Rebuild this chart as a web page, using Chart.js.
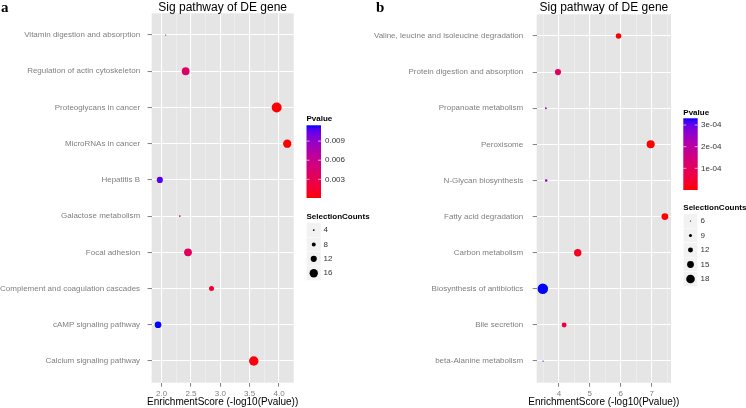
<!DOCTYPE html>
<html>
<head>
<meta charset="utf-8">
<script src="https://cdn.jsdelivr.net/npm/chart.js@4"></script>
<style>
  body { margin: 0; background: #fff; }
  .panel { position: absolute; top: 0; width: 373px; height: 408px; }
  #wrapA { left: 0; }
  #wrapB { left: 373px; }
</style>
</head>
<body>
<div class="panel" id="wrapA"><canvas id="chartA"></canvas></div>
<div class="panel" id="wrapB"><canvas id="chartB"></canvas></div>
<script>
// panel a
const catsA = [
  "Vitamin digestion and absorption",
  "Regulation of actin cytoskeleton",
  "Proteoglycans in cancer",
  "MicroRNAs in cancer",
  "Hepatitis B",
  "Galactose metabolism",
  "Focal adhesion",
  "Complement and coagulation cascades",
  "cAMP signaling pathway",
  "Calcium signaling pathway",
];
const scoreA = [2.07, 2.41, 3.96, 4.14, 1.97, 2.31, 2.45, 2.85, 1.94, 3.57];
const countA = [3, 15, 19, 16, 12, 4, 15, 10, 13, 18];
const xTicksA = [2.0, 2.5, 3.0, 3.5, 4.0];
const xTickLabelsA = ["2.0", "2.5", "3.0", "3.5", "4.0"];
const xMinorA = [2.25, 2.75, 3.25, 3.75];
const pBreaksA = [0.003, 0.006, 0.009];
const pLabelsA = ["0.003", "0.006", "0.009"];
const countBreaksA = [4, 8, 12, 16];

// panel b
const catsB = [
  "Valine, leucine and isoleucine degradation",
  "Protein digestion and absorption",
  "Propanoate metabolism",
  "Peroxisome",
  "N-Glycan biosynthesis",
  "Fatty acid degradation",
  "Carbon metabolism",
  "Biosynthesis of antibiotics",
  "Bile secretion",
  "beta-Alanine metabolism",
];
const scoreB = [5.93, 3.97, 3.58, 6.97, 3.59, 7.43, 4.61, 3.48, 4.17, 3.49];
const countB = [13, 14, 7, 17, 8, 15, 16, 21, 12, 6];
const xTicksB = [4, 5, 6, 7];
const xTickLabelsB = ["4", "5", "6", "7"];
const xMinorB = [3.5, 4.5, 5.5, 6.5, 7.5];
const pBreaksB = [0.0001, 0.0002, 0.0003];
const pLabelsB = ["1e-04", "2e-04", "3e-04"];
const countBreaksB = [6, 9, 12, 15, 18];

const FONT = '"Liberation Sans", Arial, sans-serif';
const W = 373, H = 408;

// red -> blue through Lab, like ggplot's gradient
function toLab(rgb) {
  const lin = rgb.map((c) => {
    c = c / 255;
    return c <= 0.04045 ? c / 12.92 : Math.pow((c + 0.055) / 1.055, 2.4);
  });
  const X = (0.4124 * lin[0] + 0.3576 * lin[1] + 0.1805 * lin[2]) / 0.95047;
  const Y = 0.2126 * lin[0] + 0.7152 * lin[1] + 0.0722 * lin[2];
  const Z = (0.0193 * lin[0] + 0.1192 * lin[1] + 0.9505 * lin[2]) / 1.08883;
  const f = (t) => (t > 0.008856 ? Math.cbrt(t) : t / 0.128418 + 4 / 29);
  return [116 * f(Y) - 16, 500 * (f(X) - f(Y)), 200 * (f(Y) - f(Z))];
}
function fromLab(L, a, b) {
  const fy = (L + 16) / 116, fx = fy + a / 500, fz = fy - b / 200;
  const inv = (t) => (t > 6 / 29 ? t * t * t : 0.128418 * (t - 4 / 29));
  const X = 0.95047 * inv(fx), Y = inv(fy), Z = 1.08883 * inv(fz);
  const lin = [
    3.2406 * X - 1.5372 * Y - 0.4986 * Z,
    -0.9689 * X + 1.8758 * Y + 0.0415 * Z,
    0.0557 * X - 0.204 * Y + 1.057 * Z,
  ];
  return "rgb(" + lin.map((c) => {
    c = c <= 0.0031308 ? 12.92 * c : 1.055 * Math.pow(c, 1 / 2.4) - 0.055;
    return Math.round(Math.min(1, Math.max(0, c)) * 255);
  }).join(",") + ")";
}
const lowLab = toLab([255, 0, 0]);
const highLab = toLab([0, 0, 255]);
function gradColor(t) {
  return fromLab(
    lowLab[0] + (highLab[0] - lowLab[0]) * t,
    lowLab[1] + (highLab[1] - lowLab[1]) * t,
    lowLab[2] + (highLab[2] - lowLab[2]) * t,
  );
}

function makeChart(id, p) {
  const pv = p.score.map((s) => Math.pow(10, -s));
  const pMin = Math.min(...pv), pMax = Math.max(...pv);
  const cMin = Math.min(...p.count), cMax = Math.max(...p.count);
  const rad = (c) => p.rMin + ((p.rMax - p.rMin) * (c - cMin)) / (cMax - cMin);
  const sMin = Math.min(...p.score), sMax = Math.max(...p.score);
  const ex = (sMax - sMin) * 0.05;
  const L = p.leg;

  const gg = {
    id: "gg",
    beforeDraw(chart) {
      const { ctx, chartArea: a } = chart;
      ctx.save();
      ctx.fillStyle = "#e5e5e5";
      ctx.fillRect(a.left, a.top, a.right - a.left, a.bottom - a.top);
      ctx.restore();
    },
    afterDraw(chart) {
      const { ctx, chartArea: a } = chart;
      const mid = (a.left + a.right) / 2;
      ctx.save();
      ctx.fillStyle = "#000";
      ctx.textAlign = "center";
      ctx.textBaseline = "alphabetic";
      ctx.font = "12px " + FONT;
      ctx.fillText("Sig pathway of DE gene", mid, 10.5);
      ctx.font = "10px " + FONT;
      ctx.fillText("EnrichmentScore (-log10(Pvalue))", mid, 405);
      ctx.textAlign = "left";
      ctx.font = 'bold 15px "Liberation Serif", serif';
      ctx.fillText(p.letter, p.letterX, 11.5);

      // colour bar
      ctx.textBaseline = "middle";
      ctx.font = "bold 8px " + FONT;
      ctx.fillText("Pvalue", L.x, L.pTitleY);
      const g = ctx.createLinearGradient(0, L.barBottom, 0, L.barTop);
      for (let i = 0; i <= 20; i++) g.addColorStop(i / 20, gradColor(i / 20));
      ctx.fillStyle = g;
      ctx.fillRect(L.x, L.barTop, L.w, L.barBottom - L.barTop);
      const yOf = (v) =>
        L.barBottom - ((v - pMin) / (pMax - pMin)) * (L.barBottom - L.barTop);
      ctx.strokeStyle = "rgba(255,255,255,0.8)";
      ctx.lineWidth = 0.8;
      ctx.font = "8px " + FONT;
      p.pBreaks.forEach((v, i) => {
        const y = yOf(v);
        ctx.beginPath();
        ctx.moveTo(L.x, y);
        ctx.lineTo(L.x + 3, y);
        ctx.moveTo(L.x + L.w - 3, y);
        ctx.lineTo(L.x + L.w, y);
        ctx.stroke();
        ctx.fillStyle = "#333";
        ctx.fillText(p.pLabels[i], L.labX, y);
      });

      // size keys
      ctx.fillStyle = "#000";
      ctx.font = "bold 8px " + FONT;
      ctx.fillText("SelectionCounts", L.x, L.sTitleY);
      ctx.font = "8px " + FONT;
      p.countBreaks.forEach((c, i) => {
        const y = L.keyY0 + i * L.keyStep;
        ctx.fillStyle = "#f2f2f2";
        ctx.fillRect(L.x, y - L.keyStep / 2, L.w, L.keyStep);
        ctx.strokeStyle = "#fff";
        ctx.lineWidth = 0.5;
        ctx.strokeRect(L.x, y - L.keyStep / 2, L.w, L.keyStep);
        ctx.fillStyle = "#000";
        ctx.beginPath();
        ctx.arc(L.x + L.w / 2, y, rad(c), 0, Math.PI * 2);
        ctx.fill();
        ctx.fillStyle = "#333";
        ctx.fillText(String(c), L.sLabX, y);
      });
      ctx.restore();
    },
  };

  return new Chart(document.getElementById(id), {
    type: "bubble",
    data: {
      datasets: [
        {
          data: p.score.map((s, i) => ({ x: s, y: i, r: rad(p.count[i]) })),
          backgroundColor: pv.map((v) => gradColor((v - pMin) / (pMax - pMin))),
          borderWidth: 0,
        },
      ],
    },
    options: {
      responsive: true,
      maintainAspectRatio: false,
      animation: false,
      events: [],
      devicePixelRatio: 1,
      layout: { padding: { top: p.top, right: W - p.right, left: 0, bottom: 0 } },
      plugins: { legend: { display: false }, tooltip: { enabled: false } },
      scales: {
        x: {
          type: "linear",
          min: sMin - ex,
          max: sMax + ex,
          afterBuildTicks: (s) => {
            s.ticks = p.xTicks
              .map((v, i) => ({ value: v, label: p.xLabels[i] }))
              .concat(p.xMinor.map((v) => ({ value: v, minor: true })))
              .sort((a, b) => a.value - b.value);
          },
          afterFit: (s) => { s.height = H - p.bottom; },
          border: { display: false },
          grid: {
            color: (c) => (c.tick && c.tick.minor ? "#f2f2f2" : "#ffffff"),
            lineWidth: (c) => (c.tick && c.tick.minor ? 0.6 : 1.1),
            tickColor: (c) => (c.tick && c.tick.minor ? "rgba(0,0,0,0)" : "#7f7f7f"),
            tickLength: 4,
            tickWidth: 1,
          },
          ticks: {
            autoSkip: false,
            maxRotation: 0,
            padding: 2,
            color: "#7f7f7f",
            font: { family: FONT, size: 8 },
            callback: (v, i, ticks) => ticks[i].label || "",
          },
        },
        y: {
          type: "linear",
          reverse: true,
          min: -0.6,
          max: p.cats.length - 0.4,
          afterBuildTicks: (s) => {
            s.ticks = p.cats.map((c, i) => ({ value: i }));
          },
          afterFit: (s) => { s.width = p.left; },
          border: { display: false },
          grid: { color: "#ffffff", lineWidth: 1.1, tickColor: "#7f7f7f", tickLength: 4, tickWidth: 1 },
          ticks: {
            autoSkip: false,
            padding: p.yPad,
            color: "#7f7f7f",
            font: { family: FONT, size: 8 },
            callback: (v) => p.cats[v],
          },
        },
      },
    },
    plugins: [gg],
  });
}

let chartA = makeChart("chartA", {
  cats: catsA, score: scoreA, count: countA,
  xTicks: xTicksA, xLabels: xTickLabelsA, xMinor: xMinorA,
  pBreaks: pBreaksA, pLabels: pLabelsA, countBreaks: countBreaksA,
  rMin: 0.6, rMax: 5.0,
  left: 151.6, right: 293.7, top: 13.3, bottom: 382.7, yPad: 7.5,
  letter: "a", letterX: 1,
  leg: { x: 306.5, w: 14.5, labX: 325, sLabX: 323.5, pTitleY: 119, barTop: 125.3, barBottom: 198,
         sTitleY: 216.7, keyY0: 230, keyStep: 14.4 },
});

let chartB = makeChart("chartB", {
  cats: catsB, score: scoreB, count: countB,
  xTicks: xTicksB, xLabels: xTickLabelsB, xMinor: xMinorB,
  pBreaks: pBreaksB, pLabels: pLabelsB, countBreaks: countBreaksB,
  rMin: 0.61, rMax: 5.26,
  left: 163.7, right: 298, top: 13.3, bottom: 382.7, yPad: 9.5,
  letter: "b", letterX: 3,
  leg: { x: 310.3, w: 14.4, labX: 328, sLabX: 327.5, pTitleY: 112.3, barTop: 118.3, barBottom: 190,
         sTitleY: 207.7, keyY0: 221, keyStep: 14.5 },
});
</script>
</body>
</html>
